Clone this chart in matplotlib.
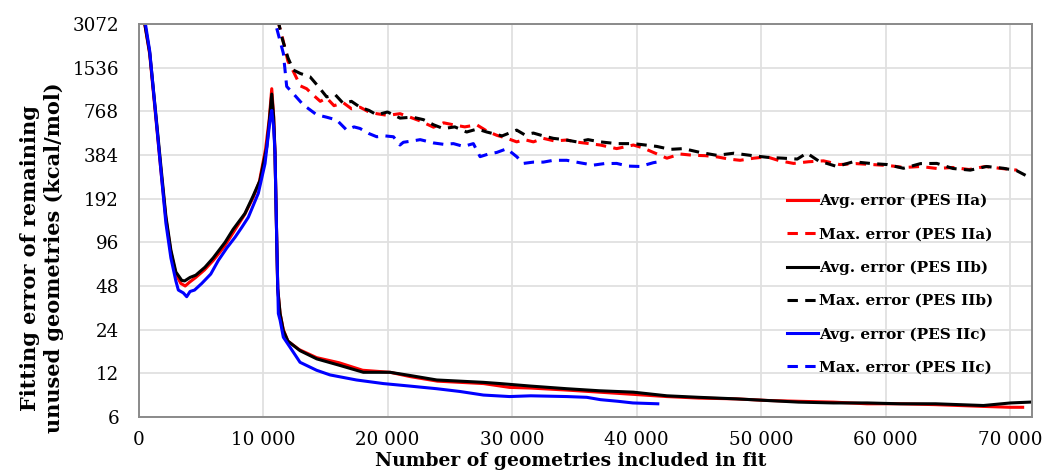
import matplotlib
matplotlib.use("Agg")
import matplotlib.pyplot as plt
from matplotlib.ticker import FixedLocator, NullLocator

# ---------------- data ----------------
# Avg. error (PES IIa)
avg_a_x = [0, 500, 900, 1400, 1800, 2200, 2600, 3000, 3400, 3750, 4100, 4600, 5300, 6000,
           6900, 7600, 8500, 9200, 9700, 10200, 10500, 10700, 10850, 10960, 11100, 11180,
           11370, 11630, 12000, 12900, 14300, 16100, 18000, 20200, 21800, 24000, 27700,
           29800, 31500, 34400, 37000, 39700, 42400, 45000, 48000, 50500, 53000, 55800,
           58500, 61200, 64000, 67800, 70000, 71000]
avg_a_y = [6000, 3072, 1900, 680, 300, 140, 82, 58, 50, 48, 51, 55, 62, 72,
           90, 112, 148, 195, 250, 420, 680, 1100, 720, 400, 100, 46,
           31, 24, 20, 17.5, 15.4, 14.2, 12.6, 12.2, 11.4, 10.6, 10.2,
           9.6, 9.5, 9.2, 8.9, 8.6, 8.3, 8.1, 8.0, 7.8, 7.7, 7.6,
           7.4, 7.4, 7.3, 7.1, 7.0, 7.0]

# Max. error (PES IIa)
max_a_x = [11150, 11500, 12000, 12430, 13000, 13500, 14000, 14600, 15110, 15700, 16450,
           17100, 17790, 18500, 19130, 20000, 21000, 21800, 22600, 23690, 24500, 25290,
           26200, 27160, 28000, 28770, 29600, 30370, 31000, 31710, 32510, 33400, 34390,
           35300, 36200, 37070, 38400, 39740, 40500, 41350, 42430, 43500, 44570, 45500,
           46440, 47400, 48310, 49400, 50460, 51500, 52600, 53800, 55000, 56300, 57600,
           58900, 60200, 61500, 62800, 64100, 65400, 66700, 68000, 69300, 70550]
max_a_y = [3300, 2600, 1700, 1450, 1150, 1100, 1000, 900, 950, 840, 880,
           800, 820, 760, 740, 720, 740, 700, 660, 597, 640, 620,
           600, 620, 560, 525, 500, 473, 490, 473, 500, 480, 487,
           470, 460, 450, 425, 450, 430, 400, 365, 390, 382, 380,
           373, 360, 353, 365, 373, 350, 336, 345, 350, 330, 335,
           330, 325, 315, 320, 310, 315, 305, 320, 310, 302]

# Avg. error (PES IIb)
avg_b_x = [0, 500, 900, 1400, 1800, 2200, 2600, 3000, 3470, 3700, 4140, 4600, 5340, 6000,
           6950, 7600, 8550, 9200, 9760, 10300, 10500, 10700, 10850, 10960, 11100, 11180,
           11370, 11630, 12000, 12970, 14310, 16180, 18060, 20200, 21800, 23950, 27700,
           29040, 31500, 34390, 37000, 39740, 42430, 45000, 48000, 50460, 53000, 55800,
           58500, 61180, 64000, 67850, 70030, 71600]
avg_b_y = [6000, 3100, 1950, 720, 320, 145, 85, 60, 52.5, 52, 55, 57, 64.7, 75,
           96, 118, 152, 200, 257, 437, 650, 1010, 700, 400, 100, 46,
           31, 23.6, 20, 17.2, 15.1, 13.6, 12.2, 12.2, 11.6, 10.8, 10.4,
           10.2, 9.8, 9.4, 9.1, 8.9, 8.4, 8.2, 8.0, 7.8, 7.6, 7.5,
           7.5, 7.4, 7.4, 7.2, 7.5, 7.6]

# Max. error (PES IIb)
max_b_x = [11200, 11500, 12000, 12430, 13000, 13770, 14400, 15110, 15800, 16450, 17100,
           17790, 18500, 19130, 20000, 21000, 22000, 22880, 23700, 24480, 25400, 26350,
           27200, 27970, 29200, 30370, 31000, 31710, 32500, 33320, 34200, 35190, 36100,
           37070, 38400, 39740, 40700, 41620, 42700, 43760, 45100, 46440, 47800, 49120,
           50500, 51790, 52900, 53670, 54600, 56080, 57400, 58750, 60100, 61430, 62800,
           64110, 65400, 66790, 68100, 69460, 70500, 71340]
max_b_y = [3300, 2500, 1800, 1480, 1400, 1330, 1150, 966, 1000, 870, 900,
           820, 780, 727, 760, 690, 700, 673, 620, 584, 600, 553,
           580, 553, 520, 570, 530, 544, 520, 500, 490, 473, 490,
           473, 460, 460, 450, 440, 420, 425, 400, 382, 395, 382,
           370, 365, 360, 396, 350, 320, 345, 336, 330, 311, 335,
           336, 310, 302, 320, 311, 300, 275]

# Avg. error (PES IIc)
avg_c_x = [0, 500, 900, 1400, 1800, 2200, 2600, 3000, 3200, 3600, 3870, 4140, 4500, 5080,
           5800, 6410, 7100, 7750, 8300, 8820, 9620, 10160, 10560, 10700, 10850, 10960,
           11100, 11230, 11370, 11630, 12430, 12970, 14300, 15380, 17500, 19660, 21800,
           23950, 25800, 27700, 29800, 31500, 34400, 36000, 37100, 38500, 39700, 41700]
avg_c_y = [6500, 3300, 2000, 700, 300, 130, 75, 52, 45, 43, 40.5, 44, 45, 50,
           58, 72, 88, 104, 122, 143, 209, 335, 667, 780, 600, 400,
           100, 31, 27.9, 21.3, 16.8, 14.3, 12.6, 11.7, 10.8, 10.2, 9.8,
           9.4, 9.0, 8.5, 8.3, 8.4, 8.3, 8.2, 7.9, 7.7, 7.5, 7.4]

# Max. error (PES IIc)
max_c_x = [11100, 11630, 11900, 12430, 13240, 13800, 14310, 15100, 15920, 16720, 17300,
           17790, 18500, 19130, 19800, 20470, 21000, 21270, 22000, 22620, 23690, 24500,
           25290, 26100, 26890, 27430, 28100, 28770, 29570, 30370, 30910, 31700, 32510,
           33320, 34390, 35400, 36530, 37400, 38400, 39300, 40280, 41350, 41800]
max_c_y = [2870, 1930, 1140, 1017, 850, 784, 727, 700, 669, 570, 600,
           585, 540, 513, 520, 513, 450, 470, 480, 490, 465, 455,
           460, 440, 460, 374, 390, 400, 424, 374, 336, 343, 343,
           353, 353, 340, 327, 335, 336, 322, 320, 340, 345]

y_ticks = [6, 12, 24, 48, 96, 192, 384, 768, 1536, 3072]
y_tick_labels = ["6", "12", "24", "48", "96", "192", "384", "768", "1536", "3072"]
x_ticks = [0, 10000, 20000, 30000, 40000, 50000, 60000, 70000]
x_tick_labels = ["0", "10 000", "20 000", "30 000", "40 000", "50 000", "60 000", "70 000"]

labels = ["Avg. error (PES IIa)", "Max. error (PES IIa)",
          "Avg. error (PES IIb)", "Max. error (PES IIb)",
          "Avg. error (PES IIc)", "Max. error (PES IIc)"]

# ---------------- figure ----------------
W, H, DPI = 1044, 474, 100
AX_L, AX_R, AX_T, AX_B = 138.5, 1032, 24, 417
fig = plt.figure(figsize=(W / DPI, H / DPI), dpi=DPI)
ax = fig.add_axes([AX_L / W, 1 - AX_B / H, (AX_R - AX_L) / W, (AX_B - AX_T) / H])

serif = "DejaVu Serif"
lw = 2.2
dash = (3.4, 2.4)
series = [
    (avg_a_x, avg_a_y, "#ff0000", "-"),
    (max_a_x, max_a_y, "#ff0000", "--"),
    (avg_b_x, avg_b_y, "#000000", "-"),
    (max_b_x, max_b_y, "#000000", "--"),
    (avg_c_x, avg_c_y, "#0000ff", "-"),
    (max_c_x, max_c_y, "#0000ff", "--"),
]
handles = []
for (xs, ys, col, ls), lab in zip(series, labels):
    if ls == "--":
        h, = ax.plot(xs, ys, color=col, lw=lw, linestyle=(0, dash), label=lab,
                     dash_capstyle="butt")
    else:
        h, = ax.plot(xs, ys, color=col, lw=lw, label=lab, solid_joinstyle="round")
    handles.append(h)

ax.set_yscale("log", base=2)
ax.set_ylim(6, 3072)
ax.set_xlim(0, 71750)
ax.yaxis.set_major_locator(FixedLocator(y_ticks))
ax.yaxis.set_minor_locator(NullLocator())
ax.set_yticklabels(y_tick_labels)
ax.set_xticks(x_ticks)
ax.set_xticklabels(x_tick_labels)
ax.xaxis.set_minor_locator(NullLocator())

ax.grid(True, color="#e0e0e0", lw=1.3)
ax.set_axisbelow(True)
for s in ax.spines.values():
    s.set_color("#8a8a8a")
    s.set_linewidth(1.4)
ax.tick_params(length=0, labelsize=13.2, pad=10)
ax.tick_params(axis="y", pad=14)
for t in ax.get_xticklabels() + ax.get_yticklabels():
    t.set_fontfamily(serif)

axw = AX_R - AX_L
axh = AX_B - AX_T
ax.set_ylabel("Fitting error of remaining\nunused geometries (kcal/mol)",
              fontfamily=serif, fontweight="bold", fontsize=15, linespacing=1.3,
              va="center", ha="center")
ax.yaxis.set_label_coords(-(AX_L - 42) / axw, (AX_B - 258) / axh)
ax.set_xlabel("Number of geometries included in fit", fontfamily=serif,
              fontweight="bold", fontsize=13.5, va="top")
ax.xaxis.set_label_coords((571 - AX_L) / axw, -(452 - AX_B) / axh)

leg = ax.legend(handles=handles, loc="upper left",
                bbox_to_anchor=(787 / W, 1 - 194 / H), bbox_transform=fig.transFigure,
                frameon=False, handlelength=2.0, handletextpad=0.12,
                labelspacing=1.25, borderpad=0, borderaxespad=0,
                prop={"family": serif, "weight": "bold", "size": 11.0})

fig.savefig("out.png", dpi=DPI)
